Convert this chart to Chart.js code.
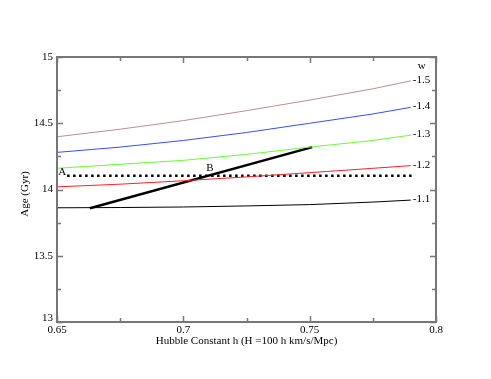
<!DOCTYPE html>
<html>
<head>
<meta charset="utf-8">
<script src="https://cdn.jsdelivr.net/npm/chart.js@4.4.1/dist/chart.umd.min.js"></script>
<style>
  html, body { margin: 0; padding: 0; background: #fff; }
  #wrap { width: 491px; height: 379px; position: relative; }
</style>
</head>
<body>
<div id="wrap"><canvas id="chart"></canvas></div>
<script>
(function(){
  'use strict';

  // Hubble constant samples
  const hValues = [0.65, 0.675, 0.7, 0.725, 0.75, 0.775, 0.79];

  // Age (Gyr) for each w
  const wLabels = ['-1.5', '-1.4', '-1.3', '-1.2', '-1.1'];
  const age15 = [14.398, 14.455, 14.52, 14.595, 14.675, 14.76, 14.82];
  const age14 = [14.28, 14.32, 14.37, 14.43, 14.50, 14.57, 14.62];
  const age13 = [14.16, 14.19, 14.22, 14.265, 14.32, 14.37, 14.41];
  const age12 = [14.02, 14.04, 14.066, 14.095, 14.127, 14.16, 14.18];
  const age11 = [13.862, 13.864, 13.868, 13.876, 13.886, 13.905, 13.92];

  // thick line from ~0.663 to ~0.751
  const thickH = [0.663, 0.751];
  const thickAge = [13.858, 14.32];

  // dotted reference age
  const dotH = [0.654, 0.791];
  const dotAge = [14.104, 14.104];

  const xTicks = [0.65, 0.7, 0.75, 0.8];
  const yTicks = [13, 13.5, 14, 14.5, 15];

  const pts = (xs, ys) => xs.map((x, i) => ({ x: x, y: ys[i] }));

  const curveColors = ['#bc8f8f', '#3050ff', '#66ff33', '#ff2020', '#000000'];
  const curveData = [age15, age14, age13, age12, age11];

  const datasets = curveData.map((d, i) => ({
    label: wLabels[i],
    data: pts(hValues, d),
    borderColor: curveColors[i],
    borderWidth: 1,
    showLine: true,
    pointRadius: 0,
    fill: false
  }));

  datasets.push({
    label: 'thick',
    data: pts(thickH, thickAge),
    borderColor: '#000',
    borderWidth: 2.5,
    showLine: true,
    pointRadius: 0
  });

  datasets.push({
    label: 'dotted',
    data: pts(dotH, dotAge),
    borderColor: '#000',
    borderWidth: 2.5,
    borderDash: [2.5, 3.5],
    showLine: true,
    pointRadius: 0
  });

  const SERIF = '"Liberation Serif", "DejaVu Serif", serif';

  const framePlugin = {
    id: 'frame',
    afterDraw(chart){
      const ctx = chart.ctx;
      const a = chart.chartArea;
      const xs = chart.scales.x, ys = chart.scales.y;
      ctx.save();

      // frame
      ctx.strokeStyle = '#777';
      ctx.lineWidth = 2;
      ctx.strokeRect(a.left, a.top, a.right - a.left, a.bottom - a.top);

      // ticks
      ctx.lineWidth = 1.5;
      ctx.beginPath();
      for (let v = 0.65; v <= 0.8001; v += 0.025) {
        const px = Math.round(xs.getPixelForValue(v)) + 0.5;
        const major = Math.abs((v / 0.05) - Math.round(v / 0.05)) < 1e-6;
        const len = major ? 6 : 4;
        ctx.moveTo(px, a.bottom); ctx.lineTo(px, a.bottom - len);
        ctx.moveTo(px, a.top); ctx.lineTo(px, a.top + len);
      }
      for (let v = 13; v <= 15.0001; v += 0.25) {
        const py = Math.round(ys.getPixelForValue(v)) + 0.5;
        const major = Math.abs((v / 0.5) - Math.round(v / 0.5)) < 1e-6;
        const len = major ? 6 : 4;
        ctx.moveTo(a.left, py); ctx.lineTo(a.left + len, py);
        ctx.moveTo(a.right, py); ctx.lineTo(a.right - len, py);
      }
      ctx.stroke();

      // tick labels
      ctx.fillStyle = '#000';
      ctx.font = '11px ' + SERIF;
      ctx.textBaseline = 'middle';
      ctx.textAlign = 'right';
      yTicks.forEach(v => {
        let py = ys.getPixelForValue(v);
        if (v === 13) py -= 4;
        ctx.fillText(String(v), a.left - 4, py);
      });
      ctx.textAlign = 'center';
      xTicks.forEach(v => {
        ctx.fillText(String(v), xs.getPixelForValue(v), a.bottom + 8);
      });

      // axis titles
      ctx.fillText('Hubble Constant h (H =100 h km/s/Mpc)', (a.left + a.right) / 2, a.bottom + 19);
      ctx.save();
      ctx.translate(25, 194);
      ctx.rotate(-Math.PI / 2);
      ctx.fillText('Age (Gyr)', 0, 0);
      ctx.restore();

      // curve labels
      ctx.font = '11px ' + SERIF;
      ctx.textAlign = 'left';
      const lastH = hValues[hValues.length - 1];
      curveData.forEach((d, i) => {
        ctx.fillText(wLabels[i], xs.getPixelForValue(lastH) + 2, ys.getPixelForValue(d[d.length - 1]) - 1);
      });
      ctx.textAlign = 'center';
      ctx.fillText('w', xs.getPixelForValue(lastH) + 11, a.top + 9);

      // point labels
      ctx.fillText('A', xs.getPixelForValue(dotH[0]) - 5, ys.getPixelForValue(dotAge[0]) - 4);
      ctx.fillText('B', xs.getPixelForValue(0.7105), ys.getPixelForValue(dotAge[0]) - 8);

      ctx.restore();
    }
  };

  new Chart(document.getElementById('chart'), {
    type: 'scatter',
    data: { datasets: datasets },
    options: {
      responsive: true,
      maintainAspectRatio: false,
      animation: false,
      layout: { padding: { left: 57, top: 57, right: 55, bottom: 57 } },
      plugins: { legend: { display: false }, tooltip: { enabled: false } },
      scales: {
        x: { type: 'linear', min: 0.65, max: 0.8, display: false },
        y: { type: 'linear', min: 13, max: 15, display: false }
      }
    },
    plugins: [framePlugin]
  });
})();
</script>
</body>
</html>
